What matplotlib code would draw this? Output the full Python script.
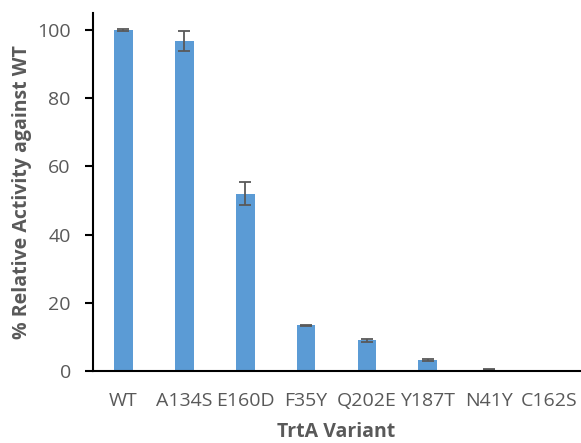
import matplotlib
matplotlib.use("Agg")
import matplotlib.pyplot as plt

categories = ["WT", "A134S", "E160D", "F35Y", "Q202E", "Y187T", "N41Y", "C162S"]
values = [100.0, 96.8, 52.0, 13.4, 9.0, 3.1, 0.4, 0.0]
errors = [0.2, 2.9, 3.4, 0.2, 0.5, 0.3, 0.15, 0.0]
yticks = [0, 20, 40, 60, 80, 100]

plt.rcParams['font.family'] = ['Open Sans', 'DejaVu Sans']
grey = "#595959"

fig = plt.figure(figsize=(5.81, 4.43), dpi=100)
ax = fig.add_axes([93/581, 1-371/443, (580-93)/581, (371-13)/443])
x = range(len(categories))
ax.bar(x, values, width=0.31, color="#5B9BD5", yerr=errors,
       error_kw=dict(ecolor=grey, elinewidth=1.3, capsize=4, capthick=1.3))
ax.set_xlim(-0.5, len(categories) - 0.5)
ax.set_ylim(0, 105)
ax.set_yticks(yticks)
ax.set_xticks(list(x))
ax.set_xticklabels(categories)
for s in ["top", "right"]:
    ax.spines[s].set_visible(False)
ax.spines["left"].set_linewidth(1.5)
ax.spines["bottom"].set_linewidth(1.5)
ax.tick_params(axis="y", direction="out", length=6, width=1.5, labelsize=14, labelcolor=grey, pad=10)
ax.tick_params(axis="x", length=0, labelsize=14, labelcolor=grey, pad=15)
ax.set_xlabel("TrtA Variant", fontsize=14, fontweight="bold", color=grey, labelpad=9)
ax.set_ylabel("% Relative Activity against WT", fontsize=14, fontweight="bold", color=grey, labelpad=4)
fig.savefig("out.png", dpi=100)
